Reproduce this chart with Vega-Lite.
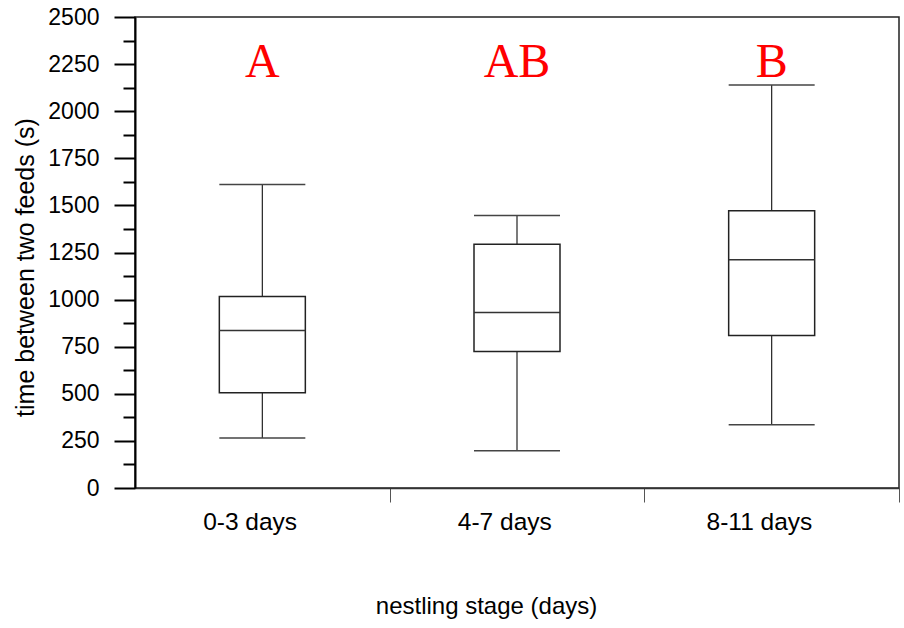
{
  "$schema": "https://vega.github.io/schema/vega-lite/v6.json",
  "width": 764,
  "height": 471,
  "autosize": "none",
  "padding": {"left": 135, "top": 17, "right": 5, "bottom": 140},
  "config": {
    "view": {"stroke": "#222", "strokeWidth": 1.5},
    "font": "Liberation Sans"
  },
  "data": {
    "values": [
      {"stage": "0-3 days", "lower": 266, "q1": 506, "median": 836, "q3": 1016, "upper": 1611, "letter": "A"},
      {"stage": "4-7 days", "lower": 198, "q1": 724, "median": 931, "q3": 1294, "upper": 1447, "letter": "AB"},
      {"stage": "8-11 days", "lower": 336, "q1": 809, "median": 1211, "q3": 1471, "upper": 2139, "letter": "B"}
    ]
  },
  "encoding": {
    "x": {
      "field": "stage",
      "type": "nominal",
      "sort": null,
      "scale": {"paddingInner": 0, "paddingOuter": 0},
      "axis": {
        "title": "nestling stage (days)",
        "tickSize": 14,
        "tickColor": "#555",
        "tickWidth": 1,
        "tickOffset": 127.3,
        "labelOffset": -140,
        "labelFontSize": 24.5,
        "labelPadding": 8,
        "labelAngle": 0,
        "labelColor": "#000",
        "labelOverlap": false,
        "domainColor": "#333",
        "domainWidth": 1.5,
        "titleFontSize": 24,
        "titleFontWeight": "normal",
        "titleColor": "#000",
        "titleX": 351,
        "titleY": 125,
        "titleAlign": "center",
        "titleBaseline": "alphabetic"
      }
    }
  },
  "layer": [
    {
      "mark": {"type": "rule", "color": "#222", "strokeWidth": 1.2},
      "encoding": {
        "y": {
          "field": "lower",
          "type": "quantitative",
          "title": "time between two feeds (s)",
          "scale": {"domain": [0, 2500], "nice": false, "zero": true},
          "axis": {
            "values": [0, 125, 250, 375, 500, 625, 750, 875, 1000, 1125, 1250, 1375, 1500, 1625, 1750, 1875, 2000, 2125, 2250, 2375, 2500],
            "format": "d",
            "labelExpr": "datum.value % 250 === 0 ? datum.label : ''",
            "labelOverlap": false,
            "tickSize": 21,
            "tickDash": {"condition": {"test": "datum.value % 250 === 0", "value": [40, 0]}, "value": [12, 40]},
            "tickWidth": 2,
            "tickColor": "#000",
            "domainColor": "#000",
            "domainWidth": 2,
            "labelFontSize": 23,
            "labelPadding": 15,
            "labelColor": "#000",
            "grid": false,
            "titleFontSize": 25,
            "titleFontWeight": "normal",
            "titleColor": "#000",
            "titleX": -110,
            "titleY": 250,
            "titleAlign": "center",
            "titleBaseline": "middle",
            "titleAngle": -90
          }
        },
        "y2": {"field": "q1"}
      }
    },
    {
      "mark": {"type": "rule", "color": "#222", "strokeWidth": 1.2},
      "encoding": {
        "y": {
          "field": "q3",
          "type": "quantitative",
          "title": "time between two feeds (s)",
          "axis": {
            "values": [0, 125, 250, 375, 500, 625, 750, 875, 1000, 1125, 1250, 1375, 1500, 1625, 1750, 1875, 2000, 2125, 2250, 2375, 2500],
            "format": "d",
            "labelExpr": "datum.value % 250 === 0 ? datum.label : ''",
            "labelOverlap": false,
            "tickSize": 21,
            "tickDash": {"condition": {"test": "datum.value % 250 === 0", "value": [40, 0]}, "value": [12, 40]},
            "tickWidth": 2,
            "tickColor": "#000",
            "domainColor": "#000",
            "domainWidth": 2,
            "labelFontSize": 23,
            "labelPadding": 15,
            "labelColor": "#000",
            "grid": false,
            "titleFontSize": 25,
            "titleFontWeight": "normal",
            "titleColor": "#000",
            "titleX": -110,
            "titleY": 250,
            "titleAlign": "center",
            "titleBaseline": "middle",
            "titleAngle": -90
          }
        },
        "y2": {"field": "upper"}
      }
    },
    {
      "mark": {"type": "bar", "size": 86, "fill": "white", "stroke": "#222", "strokeWidth": 1.5},
      "encoding": {
        "y": {
          "field": "q1",
          "type": "quantitative",
          "title": "time between two feeds (s)",
          "axis": {
            "values": [0, 125, 250, 375, 500, 625, 750, 875, 1000, 1125, 1250, 1375, 1500, 1625, 1750, 1875, 2000, 2125, 2250, 2375, 2500],
            "format": "d",
            "labelExpr": "datum.value % 250 === 0 ? datum.label : ''",
            "labelOverlap": false,
            "tickSize": 21,
            "tickDash": {"condition": {"test": "datum.value % 250 === 0", "value": [40, 0]}, "value": [12, 40]},
            "tickWidth": 2,
            "tickColor": "#000",
            "domainColor": "#000",
            "domainWidth": 2,
            "labelFontSize": 23,
            "labelPadding": 15,
            "labelColor": "#000",
            "grid": false,
            "titleFontSize": 25,
            "titleFontWeight": "normal",
            "titleColor": "#000",
            "titleX": -110,
            "titleY": 250,
            "titleAlign": "center",
            "titleBaseline": "middle",
            "titleAngle": -90
          }
        },
        "y2": {"field": "q3"}
      }
    },
    {
      "mark": {"type": "tick", "size": 86, "thickness": 1.5, "color": "#333", "opacity": 1},
      "encoding": {
        "y": {
          "field": "median",
          "type": "quantitative",
          "title": "time between two feeds (s)",
          "axis": {
            "values": [0, 125, 250, 375, 500, 625, 750, 875, 1000, 1125, 1250, 1375, 1500, 1625, 1750, 1875, 2000, 2125, 2250, 2375, 2500],
            "format": "d",
            "labelExpr": "datum.value % 250 === 0 ? datum.label : ''",
            "labelOverlap": false,
            "tickSize": 21,
            "tickDash": {"condition": {"test": "datum.value % 250 === 0", "value": [40, 0]}, "value": [12, 40]},
            "tickWidth": 2,
            "tickColor": "#000",
            "domainColor": "#000",
            "domainWidth": 2,
            "labelFontSize": 23,
            "labelPadding": 15,
            "labelColor": "#000",
            "grid": false,
            "titleFontSize": 25,
            "titleFontWeight": "normal",
            "titleColor": "#000",
            "titleX": -110,
            "titleY": 250,
            "titleAlign": "center",
            "titleBaseline": "middle",
            "titleAngle": -90
          }
        }
      }
    },
    {
      "mark": {"type": "tick", "size": 86, "thickness": 1.5, "color": "#444", "opacity": 1},
      "encoding": {
        "y": {
          "field": "lower",
          "type": "quantitative",
          "title": "time between two feeds (s)",
          "axis": {
            "values": [0, 125, 250, 375, 500, 625, 750, 875, 1000, 1125, 1250, 1375, 1500, 1625, 1750, 1875, 2000, 2125, 2250, 2375, 2500],
            "format": "d",
            "labelExpr": "datum.value % 250 === 0 ? datum.label : ''",
            "labelOverlap": false,
            "tickSize": 21,
            "tickDash": {"condition": {"test": "datum.value % 250 === 0", "value": [40, 0]}, "value": [12, 40]},
            "tickWidth": 2,
            "tickColor": "#000",
            "domainColor": "#000",
            "domainWidth": 2,
            "labelFontSize": 23,
            "labelPadding": 15,
            "labelColor": "#000",
            "grid": false,
            "titleFontSize": 25,
            "titleFontWeight": "normal",
            "titleColor": "#000",
            "titleX": -110,
            "titleY": 250,
            "titleAlign": "center",
            "titleBaseline": "middle",
            "titleAngle": -90
          }
        }
      }
    },
    {
      "mark": {"type": "tick", "size": 86, "thickness": 1.5, "color": "#444", "opacity": 1},
      "encoding": {
        "y": {
          "field": "upper",
          "type": "quantitative",
          "title": "time between two feeds (s)",
          "axis": {
            "values": [0, 125, 250, 375, 500, 625, 750, 875, 1000, 1125, 1250, 1375, 1500, 1625, 1750, 1875, 2000, 2125, 2250, 2375, 2500],
            "format": "d",
            "labelExpr": "datum.value % 250 === 0 ? datum.label : ''",
            "labelOverlap": false,
            "tickSize": 21,
            "tickDash": {"condition": {"test": "datum.value % 250 === 0", "value": [40, 0]}, "value": [12, 40]},
            "tickWidth": 2,
            "tickColor": "#000",
            "domainColor": "#000",
            "domainWidth": 2,
            "labelFontSize": 23,
            "labelPadding": 15,
            "labelColor": "#000",
            "grid": false,
            "titleFontSize": 25,
            "titleFontWeight": "normal",
            "titleColor": "#000",
            "titleX": -110,
            "titleY": 250,
            "titleAlign": "center",
            "titleBaseline": "middle",
            "titleAngle": -90
          }
        }
      }
    },
    {
      "mark": {"type": "text", "font": "Liberation Serif", "fontSize": 48, "color": "#ff0000", "baseline": "alphabetic", "align": "center"},
      "encoding": {
        "y": {
          "datum": 2180,
          "type": "quantitative",
          "title": "time between two feeds (s)",
          "axis": {
            "values": [0, 125, 250, 375, 500, 625, 750, 875, 1000, 1125, 1250, 1375, 1500, 1625, 1750, 1875, 2000, 2125, 2250, 2375, 2500],
            "format": "d",
            "labelExpr": "datum.value % 250 === 0 ? datum.label : ''",
            "labelOverlap": false,
            "tickSize": 21,
            "tickDash": {"condition": {"test": "datum.value % 250 === 0", "value": [40, 0]}, "value": [12, 40]},
            "tickWidth": 2,
            "tickColor": "#000",
            "domainColor": "#000",
            "domainWidth": 2,
            "labelFontSize": 23,
            "labelPadding": 15,
            "labelColor": "#000",
            "grid": false,
            "titleFontSize": 25,
            "titleFontWeight": "normal",
            "titleColor": "#000",
            "titleX": -110,
            "titleY": 250,
            "titleAlign": "center",
            "titleBaseline": "middle",
            "titleAngle": -90
          }
        },
        "text": {"field": "letter"}
      }
    }
  ]
}
